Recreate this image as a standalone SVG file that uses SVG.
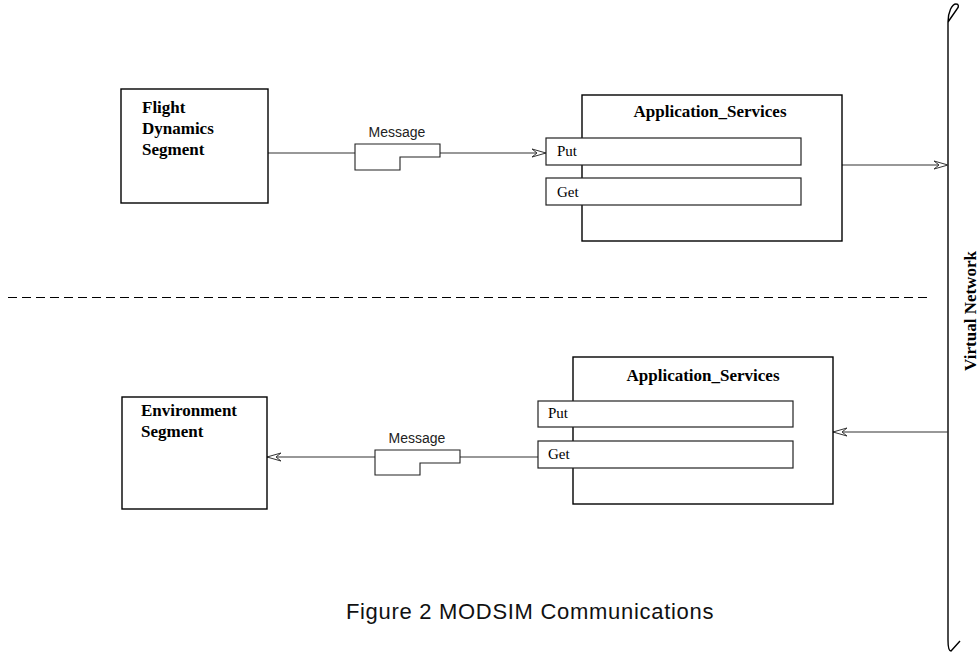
<svg xmlns="http://www.w3.org/2000/svg" width="979" height="655" viewBox="0 0 979 655">
  <style>
    .box { fill: #fff; stroke: #000; stroke-width: 1.4; }
    .slot { fill: #fff; stroke: #222; stroke-width: 1.2; }
    .wire { fill: none; stroke: #333; stroke-width: 1.1; }
    .msg { fill: #fff; stroke: #222; stroke-width: 1.1; }
    .title { font-family: "Liberation Serif", "Times New Roman", serif; font-weight: bold; font-size: 17px; fill: #000; }
    .op { font-family: "Liberation Serif", "Times New Roman", serif; font-size: 15px; fill: #000; }
    .label { font-family: "Liberation Sans", Arial, sans-serif; font-size: 14px; fill: #222; }
    .caption { font-family: "Liberation Sans", Arial, sans-serif; font-size: 22px; letter-spacing: 0.7px; fill: #111; }
    .net { fill: none; stroke: #000; stroke-width: 1.4; }
  </style>
  <defs>
    <marker id="head" viewBox="-15 -5 16 10" refX="0" refY="0" markerWidth="16" markerHeight="10" markerUnits="userSpaceOnUse" orient="auto">
      <path d="M0,0 L-14,-4 L-9,0 L-14,4 Z" fill="#fff" stroke="#333" stroke-width="1"/>
    </marker>
  </defs>

  <!-- section divider -->
  <line x1="8" y1="297.5" x2="928" y2="297.5" stroke="#000" stroke-width="1" stroke-dasharray="9 5"/>

  <!-- virtual network bus -->
  <g id="virtual-network">
    <path class="net" d="M948,22 V640"/>
    <path class="net" d="M948,22 C948,12 952,4 956,4 C959,4 959,7 957,9 L948,22"/>
    <path class="net" d="M948,640 C948,648 949,651 951,651 L960,641"/>
    <text class="title" transform="translate(976,311) rotate(-90)" text-anchor="middle">Virtual Network</text>
  </g>

  <g id="connectors">
    <path class="wire" d="M268,153 H355"/>
    <path class="wire" d="M440,153 H546" marker-end="url(#head)"/>
    <path class="wire" d="M842,165 H948" marker-end="url(#head)"/>
    <path class="wire" d="M948,432 H833" marker-end="url(#head)"/>
    <path class="wire" d="M538,457 H460"/>
    <path class="wire" d="M375,457 H267" marker-end="url(#head)"/>
  </g>

  <!-- flight dynamics segment -->
  <g id="flight-dynamics">
    <rect class="box" x="121" y="89" width="147" height="114"/>
    <text class="title" x="142" y="113">Flight</text>
    <text class="title" x="142" y="134">Dynamics</text>
    <text class="title" x="142" y="155">Segment</text>
  </g>

  <!-- outgoing message -->
  <g id="message-out">
    <path class="msg" d="M355,144 H440 V157 H400 V170 H355 Z"/>
    <text class="label" x="397" y="137" text-anchor="middle">Message</text>
  </g>

  <!-- upper application services -->
  <g id="app-services-upper">
    <rect class="box" x="582" y="95" width="260" height="146"/>
    <text class="title" x="710" y="117" text-anchor="middle">Application_Services</text>
    <rect class="slot" x="546" y="138" width="255" height="27"/>
    <text class="op" x="557" y="156">Put</text>
    <rect class="slot" x="546" y="178" width="255" height="27"/>
    <text class="op" x="557" y="197">Get</text>
  </g>

  <!-- lower application services -->
  <g id="app-services-lower">
    <rect class="box" x="573" y="357" width="260" height="147"/>
    <text class="title" x="703" y="381" text-anchor="middle">Application_Services</text>
    <rect class="slot" x="538" y="401" width="255" height="26"/>
    <text class="op" x="548" y="418">Put</text>
    <rect class="slot" x="538" y="441" width="255" height="27"/>
    <text class="op" x="548" y="459">Get</text>
  </g>

  <!-- incoming message -->
  <g id="message-in">
    <path class="msg" d="M375,450 H460 V463 H420 V475 H375 Z"/>
    <text class="label" x="417" y="443" text-anchor="middle">Message</text>
  </g>

  <!-- environment segment -->
  <g id="environment">
    <rect class="box" x="122" y="397" width="145" height="112"/>
    <text class="title" x="141" y="416">Environment</text>
    <text class="title" x="141" y="437">Segment</text>
  </g>

  <text class="caption" x="530" y="619" text-anchor="middle">Figure 2 MODSIM Communications</text>
</svg>
